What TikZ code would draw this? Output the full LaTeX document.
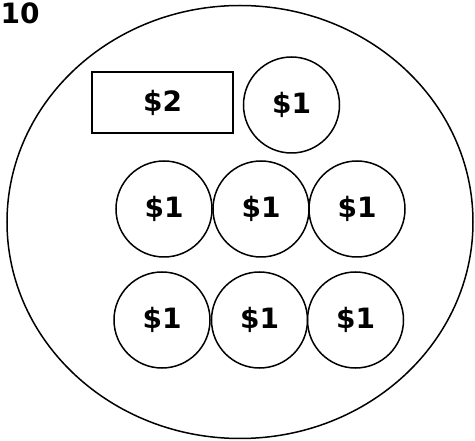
\documentclass[tikz,border=0pt]{standalone}
\usepackage{fontspec}
\setmainfont{DejaVu Sans}
\usetikzlibrary{shapes.geometric}
\begin{document}
\begin{tikzpicture}[x=1pt,y=-1pt,
  txt/.style={font=\fontsize{28}{28}\selectfont\bfseries},
  coin/.style={circle,draw,line width=1.5pt,minimum size=96pt,inner sep=0pt,txt},
  bill/.style={rectangle,draw,line width=1.3pt,minimum width=141pt,minimum height=61pt,inner sep=0pt,txt},
  lbl/.style={txt,inner sep=0pt,anchor=north west}]
\useasboundingbox (0,0) rectangle (475,441);
\node[ellipse,draw,line width=1.5pt,minimum width=466pt,minimum height=433pt,inner sep=0pt] (purse) at (240,222) {};
\node[lbl] (num) at (0.5,3) {10};
\node[bill] (b2) at (162.5,102.5) {\$2};
\node[coin] (c0) at (291.5,105) {\$1};
\node[coin] (c1) at (164,209) {\$1};
\node[coin] (c2) at (261,209) {\$1};
\node[coin] (c3) at (357,209) {\$1};
\node[coin] (c4) at (162,320) {\$1};
\node[coin] (c5) at (259.5,320) {\$1};
\node[coin] (c6) at (355.5,320) {\$1};
\end{tikzpicture}
\end{document}
